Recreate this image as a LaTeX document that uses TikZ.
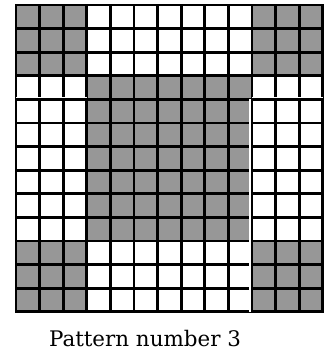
\documentclass[tikz,border=0pt]{standalone}
\usepackage{fontspec}
\setmainfont{DejaVu Serif}
\definecolor{patgray}{RGB}{151,151,151}

\begin{document}
\begin{tikzpicture}[x=1bp,y=-1bp,
    cellline/.style={line width=2.7bp, black},
    gapline/.style={line width=1.2bp, white}]
  \useasboundingbox (0,0) rectangle (326,350);
  \def\cs{23.6}
  \foreach \i in {1,...,13}{
    \foreach \j in {1,...,13}{
      \pgfmathtruncatemacro{\midi}{(\i>3)&&(\i<11)}
      \pgfmathtruncatemacro{\midj}{(\j>3)&&(\j<11)}
      \pgfmathsetmacro{\cellcol}{(\midi==\midj)?"patgray":"white"}
      \fill[\cellcol] ({16+(\i-1)*\cs},{5+(\j-1)*\cs}) rectangle ++(\cs,\cs);
    }
  }
  \foreach \i in {1,...,13}{
    \foreach \j in {1,...,13}{
      \draw[cellline] ({16+(\i-1)*\cs},{5+(\j-1)*\cs}) rectangle ++(\cs,\cs);
    }
  }
  % seams between the pasted blocks
  \draw[gapline] ({16},{5+4*\cs-2}) -- ({16+3*\cs},{5+4*\cs-2});
  \draw[gapline] ({16+10*\cs},{5+4*\cs-2}) -- ({16+13*\cs},{5+4*\cs-2});
  \draw[gapline] ({16+10*\cs-2},{5+4*\cs}) -- ({16+10*\cs-2},{5+13*\cs});
  \node[anchor=base, font=\fontsize{21.5}{26}\selectfont] (caption) at (145,346) {Pattern number 3};
\end{tikzpicture}
\end{document}
